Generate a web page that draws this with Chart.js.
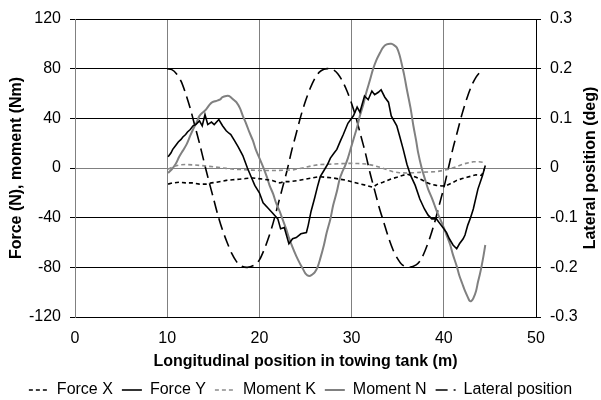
<!DOCTYPE html>
<html>
<head>
<meta charset="utf-8">
<script src="https://cdn.jsdelivr.net/npm/chart.js@4.4.1/dist/chart.umd.min.js"></script>
<style>
  html, body { margin: 0; padding: 0; background: #fff; }
  #wrap { width: 601px; height: 400px; position: relative; }
</style>
</head>
<body>
<div id="wrap"><canvas id="chart" width="601" height="400"></canvas></div>
<script>
// position along the tank (m) and measured values for each channel
const forceXPos = [10.1, 10.6, 11.3, 12.0, 12.8, 13.5, 14.2, 14.8, 15.3, 16.4, 17.1, 17.8, 18.5, 19.3, 20.4, 21.4, 22.2, 22.7, 23.2, 24.3, 25.0, 25.7, 26.5, 27.3, 28.0, 28.7, 29.5, 30.2, 31.0, 31.6, 32.3, 32.8, 33.4, 34.2, 34.9, 35.5, 36.0, 36.5, 37.0, 37.6, 38.1, 38.6, 39.2, 39.8, 40.3, 40.9, 41.4, 42.0, 42.5, 43.0, 43.5, 44.1, 44.4];
const forceX = [-13, -12, -11.5, -12, -12, -13, -13, -12, -11.5, -10, -9.5, -9, -8.5, -8, -9, -10, -12, -11, -11, -10, -9, -8, -7, -7.5, -8, -9, -10, -11.5, -13, -14, -15.5, -13, -11.5, -9, -7.5, -6, -5, -6, -7.5, -9.5, -11.5, -13, -14, -14.5, -14, -12, -10, -8.5, -7.5, -6.5, -5.5, -6, -1];

const forceYPos = [10.1, 10.4, 10.6, 10.9, 11.2, 11.5, 11.7, 12.0, 12.2, 12.5, 12.8, 13.1, 13.5, 13.8, 14.1, 14.4, 14.8, 15.1, 15.6, 16.0, 16.4, 16.7, 16.9, 17.3, 17.7, 18.2, 18.7, 19.1, 19.5, 20.0, 20.4, 20.9, 21.4, 22.0, 22.3, 22.7, 23.2, 23.6, 24.0, 24.5, 25.1, 25.3, 25.6, 26.0, 26.3, 26.6, 27.0, 27.4, 27.7, 28.1, 28.4, 28.8, 29.1, 29.6, 30.2, 30.6, 30.9, 31.4, 31.8, 32.2, 32.5, 32.9, 33.2, 33.6, 34.0, 34.3, 34.9, 35.2, 35.6, 36.0, 36.4, 36.9, 37.4, 37.9, 38.3, 38.7, 39.2, 39.6, 39.9, 40.3, 40.6, 41.0, 41.4, 41.7, 42.1, 42.3, 42.6, 42.9, 43.2, 43.7, 44.2, 44.5];
const forceY = [9, 12, 15, 18, 21, 23, 25, 27, 29, 31, 34, 35, 38, 34, 43, 35, 37, 35, 39, 34, 30, 28, 27, 22, 17, 10, 0, -7, -14, -20, -28, -32, -36, -41, -49, -48, -61, -57, -56, -53, -52, -46, -35, -24, -15, -7, -2, 3, 8, 12, 15, 22, 27, 36, 42, 49, 45, 58, 55, 62, 59, 61, 63, 57, 53, 42, 34, 26, 15, 3, -6, -14, -25, -33, -38, -41, -41, -45, -48, -52, -57, -62, -65, -61, -57, -54, -46, -40, -33, -17, -6, 2];

const momentKPos = [10.1, 10.6, 11.3, 12.0, 12.8, 13.7, 14.6, 15.5, 16.4, 17.3, 18.2, 19.1, 20.0, 20.9, 21.8, 22.7, 23.6, 24.3, 25.0, 25.7, 26.5, 27.3, 28.0, 28.9, 29.8, 30.7, 31.6, 32.4, 33.1, 33.8, 34.5, 35.2, 36.0, 36.7, 37.4, 38.3, 39.2, 39.9, 40.6, 41.4, 42.1, 42.7, 43.2, 43.8, 44.4];
const momentK = [-1, 1, 2.5, 2.8, 2.5, 2, 1.3, 0.5, -0.3, -1, -1.3, -1.7, -2, -2, -2, -1.8, -1.6, -0.5, 0.5, 1.8, 2.8, 3, 3.2, 3.5, 3.8, 3.6, 3.2, 2, 0.5, -1.3, -3, -3.8, -4, -3.8, -3.5, -3.2, -3, -2, -0.8, 1.2, 3.2, 4.3, 5, 5, 4.5];

const momentNPos = [10.1, 10.5, 10.9, 11.3, 11.7, 12.1, 12.5, 12.8, 13.2, 13.5, 13.9, 14.2, 14.6, 14.9, 15.3, 15.7, 16.0, 16.4, 16.7, 16.9, 17.2, 17.5, 17.9, 18.2, 18.6, 18.9, 19.3, 19.6, 20.0, 20.4, 20.8, 21.1, 21.5, 21.8, 22.2, 22.5, 22.9, 23.2, 23.6, 24.0, 24.4, 24.7, 25.0, 25.4, 25.7, 26.0, 26.3, 26.6, 27.0, 27.3, 27.7, 28.0, 28.4, 28.7, 29.0, 29.3, 29.6, 30.0, 30.2, 30.6, 30.9, 31.3, 31.6, 32.0, 32.3, 32.7, 33.1, 33.4, 33.8, 34.3, 34.6, 34.9, 35.2, 35.4, 35.7, 36.0, 36.4, 36.7, 37.0, 37.2, 37.6, 38.0, 38.3, 38.7, 39.0, 39.3, 39.6, 40.0, 40.3, 40.7, 41.0, 41.4, 41.7, 42.0, 42.3, 42.6, 42.8, 43.0, 43.2, 43.5, 43.7, 43.9, 44.1, 44.3, 44.5];
const momentN = [-4, -1, 3, 9, 14, 19, 26, 31, 37, 42, 45, 47, 51, 53, 54, 55, 57, 58, 58, 57, 55, 53, 48, 42, 35, 29, 22, 15, 8, 1, -7, -14, -21, -28, -35, -41, -49, -56, -64, -71, -77, -81, -85, -87, -86, -84, -80, -73, -62, -52, -41, -30, -19, -9, -3, 2, 8, 18, 23, 33, 42, 52, 61, 71, 79, 87, 93, 97, 99.5, 100, 99, 97, 91, 85, 75, 63, 48, 34, 22, 13, 0, -10, -17, -24, -30, -36, -41, -48, -54, -62, -70, -79, -87, -93, -99, -104, -107, -107, -105, -99, -92, -86, -79, -71, -62];

const lateralPos = [10, 10.5, 11, 11.5, 12, 12.5, 13, 13.5, 14, 14.5, 15, 15.5, 16, 16.5, 17, 17.5, 18, 18.7, 19.5, 20, 20.5, 21, 21.5, 22, 22.5, 23, 23.5, 24, 24.5, 25, 25.5, 26, 26.5, 27, 27.5, 28, 28.5, 29, 29.5, 30, 30.5, 31, 31.5, 32, 32.5, 33, 33.5, 34, 34.5, 35, 35.5, 36.2, 37, 37.5, 38, 38.5, 39, 39.5, 40, 40.5, 41, 41.5, 42, 42.5, 43, 43.5, 44];
const lateral = [0.2, 0.198, 0.19, 0.175, 0.15, 0.12, 0.085, 0.05, 0.012, -0.025, -0.06, -0.095, -0.125, -0.15, -0.172, -0.188, -0.197, -0.2, -0.195, -0.185, -0.165, -0.14, -0.11, -0.075, -0.04, -0.005, 0.035, 0.07, 0.105, 0.135, 0.16, 0.18, 0.193, 0.199, 0.2, 0.198, 0.19, 0.175, 0.155, 0.13, 0.1, 0.065, 0.03, -0.01, -0.045, -0.08, -0.11, -0.14, -0.165, -0.183, -0.195, -0.2, -0.195, -0.185, -0.165, -0.14, -0.11, -0.075, -0.04, 0, 0.04, 0.075, 0.11, 0.14, 0.165, 0.183, 0.195];

const seriesNames = ['Force X', 'Force Y', 'Moment K', 'Moment N', 'Lateral position'];
const rightTitle = 'Lateral position (deg)';

function pairs(xs, ys) {
  return xs.map((x, i) => ({ x: x, y: ys[i] }));
}

Chart.defaults.font.family = "'Liberation Sans', Arial, sans-serif";
Chart.defaults.font.size = 16;
Chart.defaults.color = '#000';

// pull the legend row down towards the bottom edge
const legendShift = {
  id: 'legendShift',
  beforeInit(chart) {
    const fit = chart.legend.fit;
    chart.legend.fit = function () {
      fit.bind(chart.legend)();
      this.height -= 8;
    };
  }
};

// right axis title, reading bottom to top like the left one
const rightAxisTitle = {
  id: 'rightAxisTitle',
  afterDraw(chart) {
    const { ctx, chartArea } = chart;
    ctx.save();
    ctx.translate(591, (chartArea.top + chartArea.bottom) / 2);
    ctx.rotate(-Math.PI / 2);
    ctx.font = "bold 16px 'Liberation Sans', Arial, sans-serif";
    ctx.fillStyle = '#000';
    ctx.textAlign = 'center';
    ctx.textBaseline = 'middle';
    ctx.fillText(rightTitle, 0, 0);
    ctx.restore();
  }
};

const lineDefaults = { pointRadius: 0, pointHoverRadius: 0, fill: false, borderCapStyle: 'butt' };

new Chart(document.getElementById('chart'), {
  type: 'line',
  data: {
    datasets: [
      { ...lineDefaults, label: seriesNames[0], data: pairs(forceXPos, forceX), borderColor: '#000', borderWidth: 1.6, borderDash: [4, 3], yAxisID: 'y' },
      { ...lineDefaults, label: seriesNames[1], data: pairs(forceYPos, forceY), borderColor: '#000', borderWidth: 1.6, yAxisID: 'y' },
      { ...lineDefaults, label: seriesNames[2], data: pairs(momentKPos, momentK), borderColor: '#8c8c8c', borderWidth: 1.6, borderDash: [4, 3], yAxisID: 'y' },
      { ...lineDefaults, label: seriesNames[3], data: pairs(momentNPos, momentN), borderColor: '#808080', borderWidth: 2, tension: 0.3, yAxisID: 'y' },
      { ...lineDefaults, label: seriesNames[4], data: pairs(lateralPos, lateral), borderColor: '#000', borderWidth: 1.6, borderDash: [12, 6], tension: 0.3, yAxisID: 'y1' }
    ]
  },
  options: {
    responsive: false,
    animation: false,
    events: [],
    layout: { padding: { top: 19, left: 0, right: 0, bottom: 0 } },
    scales: {
      x: {
        type: 'linear',
        min: 0, max: 50,
        ticks: { stepSize: 10, padding: 12, font: { size: 16 } },
        grid: { color: '#808080', lineWidth: 1, drawTicks: false },
        border: { color: '#000', width: 1 },
        title: { display: true, text: 'Longitudinal position in towing tank (m)', font: { size: 16, weight: 'bold', lineHeight: 1.2 }, padding: { top: 0, bottom: 2 } },
        afterFit(scale) { scale.height = 56; }
      },
      y: {
        position: 'left',
        min: -120, max: 120,
        ticks: { stepSize: 40, padding: 9, font: { size: 16 } },
        grid: {
          color: ctx => (ctx.tick && ctx.tick.value === 0) ? '#808080' : '#000',
          tickColor: '#000',
          tickLength: 5,
          lineWidth: 1
        },
        border: { color: '#808080', width: 1 },
        title: { display: true, text: 'Force (N), moment (Nm)', font: { size: 16, weight: 'bold', lineHeight: 1.2 }, padding: { top: 7, bottom: 0 } },
        afterFit(scale) { scale.width = 75; }
      },
      y1: {
        position: 'right',
        min: -0.3, max: 0.3,
        ticks: {
          stepSize: 0.1, padding: 9, font: { size: 16 },
          callback: v => Math.abs(v) < 1e-9 ? '0' : v.toFixed(1)
        },
        grid: { drawOnChartArea: false, color: '#000', tickLength: 5 },
        border: { color: '#000', width: 1 },
        afterFit(scale) { scale.width = 65; }
      }
    },
    plugins: {
      tooltip: { enabled: false },
      legend: {
        position: 'bottom',
        labels: {
          usePointStyle: true,
          pointStyle: 'line',
          pointStyleWidth: 20,
          padding: 9,
          font: { size: 16 },
          color: '#000',
          // legend samples use each line's own dash pattern
          generateLabels(chart) {
            const items = Chart.defaults.plugins.legend.labels.generateLabels(chart);
            items.forEach((item, i) => {
              const ds = chart.data.datasets[i];
              item.lineDash = ds.borderDash || [];
              item.strokeStyle = ds.borderColor;
              item.lineWidth = ds.borderWidth;
              item.pointStyle = 'line';
            });
            return items;
          }
        }
      }
    }
  },
  plugins: [legendShift, rightAxisTitle]
});
</script>
</body>
</html>
